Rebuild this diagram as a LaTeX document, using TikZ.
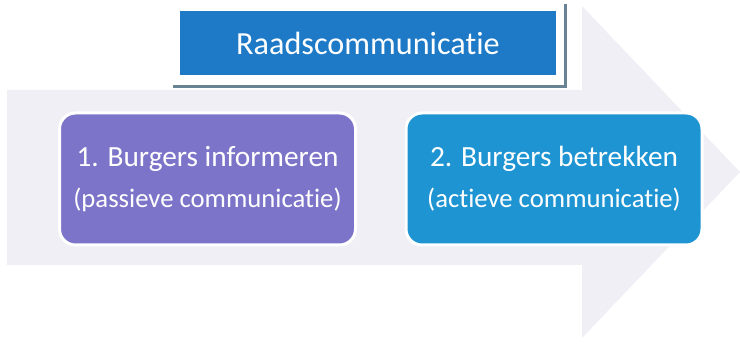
\documentclass[tikz,border=0pt]{standalone}
\usepackage{fontspec}
\setmainfont{Carlito}[Ligatures=NoCommon]
\usetikzlibrary{shapes.geometric}
\definecolor{pijlgrijs}{RGB}{239,239,245}
\definecolor{kopblauw}{RGB}{30,122,198}
\definecolor{schaduw}{RGB}{105,130,148}
\definecolor{paars}{RGB}{124,116,200}
\definecolor{lichtblauw}{RGB}{30,148,210}
\newcommand{\ondertitel}{\fontsize{26.7}{32}\selectfont}

\begin{document}
\begin{tikzpicture}[x=1pt,y=1pt]
\useasboundingbox (0,0) rectangle (740,346);

\begin{scope}[node distance=346.5pt,stap/.style={rounded corners=16pt,draw=white,line width=3pt,text=white,minimum width=296pt,minimum height=132pt,align=center,font=\fontsize{29.3}{35}\selectfont},kop/.style={fill=kopblauw,text=white,minimum width=376pt,minimum height=64pt,inner sep=0,font=\fontsize{32.2}{40}\selectfont}]
% background arrow
\fill[pijlgrijs] (7,256) -- (582,256) -- (582,340) -- (740,174) -- (582,8) -- (582,81) -- (7,81) -- cycle;
% title frame
\fill[schaduw] (173,258) rectangle (567,342);
\fill[white] (170,261) rectangle (564,346);

% Nodes
\node[kop] (raad) at (368,303) {Raadscommunicatie};
\node[stap,fill=paars] (b1) at (207.5,167) {1. Burgers informeren\\[6pt]\ondertitel (passieve communicatie)};
\node[stap,fill=lichtblauw,right of = b1] (b2) {2. Burgers betrekken\\[6pt]\ondertitel (actieve communicatie)};
\end{scope}

\end{tikzpicture}
\end{document}
